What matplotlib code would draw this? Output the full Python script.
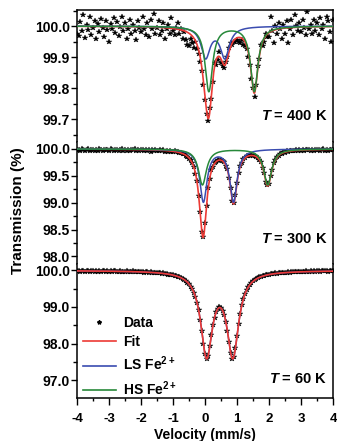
import numpy as np
import matplotlib
matplotlib.use("Agg")
import matplotlib.pyplot as plt
from matplotlib.lines import Line2D
from matplotlib.ticker import MultipleLocator, FormatStrFormatter

plt.rcParams['font.family'] = ['Liberation Sans', 'DejaVu Sans']
plt.rcParams['font.weight'] = 'bold'
plt.rcParams['mathtext.fontset'] = 'custom'
plt.rcParams['mathtext.rm'] = 'Liberation Sans:bold'
plt.rcParams['mathtext.it'] = 'Liberation Sans:bold:italic'
plt.rcParams['mathtext.bf'] = 'Liberation Sans:bold'

# ---------------- data ----------------
velocity_min, velocity_max, n_channels = -4.0, 4.0, 161

data_400K = [
    99.975, 99.968, 100.012, 99.985, 100.035, 99.962, 100.004, 99.988, 100.028, 99.972,
    99.994, 100.018, 99.958, 100.008, 99.981, 100.022, 99.995, 99.965, 100.015, 99.987,
    99.948, 100.006, 99.992, 100.025, 99.978, 100.012, 99.969, 99.998, 100.030, 99.983,
    100.010, 99.960, 99.990, 100.020, 99.975, 100.005, 99.985, 99.955, 100.015, 99.995,
    99.980, 100.030, 99.990, 99.970, 100.010, 99.965, 100.020, 99.990, 100.040, 99.975,
    99.995, 100.015, 99.970, 99.985, 100.010, 99.960, 99.990, 100.005, 99.975, 100.025,
    99.985, 99.970, 99.995, 100.010, 99.975, 99.990, 99.960, 99.980, 99.955, 99.940,
    99.935, 99.960, 99.945, 99.930, 99.950, 99.925, 99.910, 99.885, 99.855, 99.810,
    99.760, 99.715, 99.693, 99.735, 99.765, 99.820, 99.880, 99.875, 99.890, 99.915,
    99.880, 99.870, 99.865, 99.885, 99.900, 99.930, 99.945, 99.940, 99.948, 99.950,
    99.955, 99.950, 99.945, 99.955, 99.940, 99.935, 99.925, 99.900, 99.875, 99.830,
    99.800, 99.770, 99.810, 99.870, 99.895, 99.940, 99.935, 99.950, 99.975, 99.965,
    99.965, 100.030, 99.985, 99.945, 100.000, 99.975, 100.010, 99.990, 99.960, 100.005,
    99.975, 100.015, 99.945, 99.990, 100.020, 99.970, 100.035, 100.000, 99.985, 100.010,
    99.980, 100.020, 99.995, 99.970, 100.045, 99.990, 100.005, 99.975, 100.020, 99.985,
    100.010, 99.970, 100.025, 99.990, 100.005, 99.960, 100.030, 100.015, 99.980, 99.950,
    100.020,
]

data_300K = [
    99.975, 99.990, 99.965, 100.000, 99.980, 99.960, 99.985, 99.995, 99.970, 99.980,
    99.990, 99.965, 99.985, 99.970, 100.005, 99.980, 99.960, 99.990, 99.975, 99.985,
    99.970, 99.995, 99.980, 99.955, 99.985, 99.990, 99.970, 99.980, 100.000, 99.965,
    99.985, 99.970, 99.990, 99.960, 99.980, 99.975, 99.995, 99.965, 99.985, 99.970,
    99.975, 99.990, 99.960, 99.980, 99.970, 99.985, 99.950, 99.975, 99.965, 99.980,
    99.970, 99.955, 99.980, 99.960, 99.975, 99.950, 99.965, 99.945, 99.970, 99.950,
    99.940, 99.955, 99.935, 99.945, 99.920, 99.930, 99.900, 99.910, 99.870, 99.855,
    99.820, 99.800, 99.730, 99.660, 99.540, 99.400, 99.120, 98.820, 98.450, 98.360,
    98.620, 98.940, 99.270, 99.450, 99.600, 99.665, 99.740, 99.755, 99.795, 99.785,
    99.800, 99.770, 99.755, 99.690, 99.620, 99.460, 99.280, 99.040, 98.990, 99.150,
    99.360, 99.560, 99.680, 99.740, 99.810, 99.825, 99.860, 99.875, 99.870, 99.885,
    99.870, 99.875, 99.850, 99.840, 99.790, 99.750, 99.650, 99.550, 99.390, 99.320,
    99.350, 99.500, 99.615, 99.735, 99.790, 99.850, 99.870, 99.905, 99.910, 99.935,
    99.930, 99.955, 99.945, 99.965, 99.955, 99.970, 99.960, 99.980, 99.965, 99.975,
    99.970, 99.985, 99.960, 99.980, 99.975, 99.990, 99.965, 99.985, 99.970, 99.980,
    99.975, 99.990, 99.965, 99.980, 99.995, 99.970, 99.985, 99.960, 99.980, 99.975,
    99.990,
]

data_60K = [
    99.975, 99.990, 99.970, 99.985, 99.995, 99.965, 99.980, 99.990, 99.970, 99.985,
    99.975, 99.960, 99.985, 99.970, 99.990, 99.965, 99.980, 99.975, 99.960, 99.985,
    99.970, 99.980, 99.960, 99.975, 99.985, 99.955, 99.970, 99.980, 99.965, 99.960,
    99.965, 99.975, 99.950, 99.970, 99.960, 99.975, 99.955, 99.965, 99.950, 99.960,
    99.955, 99.960, 99.945, 99.950, 99.960, 99.940, 99.950, 99.935, 99.945, 99.930,
    99.930, 99.935, 99.920, 99.915, 99.920, 99.900, 99.905, 99.885, 99.890, 99.870,
    99.865, 99.860, 99.840, 99.830, 99.810, 99.790, 99.770, 99.740, 99.705, 99.670,
    99.620, 99.560, 99.490, 99.390, 99.270, 99.110, 98.920, 98.640, 98.330, 97.990,
    97.710, 97.575, 97.660, 97.930, 98.220, 98.510, 98.710, 98.870, 98.945, 98.990,
    98.975, 98.900, 98.770, 98.600, 98.340, 98.050, 97.750, 97.585, 97.625, 97.870,
    98.210, 98.530, 98.810, 99.050, 99.230, 99.350, 99.470, 99.535, 99.610, 99.655,
    99.710, 99.730, 99.770, 99.785, 99.815, 99.825, 99.850, 99.855, 99.875, 99.875,
    99.890, 99.900, 99.900, 99.915, 99.920, 99.915, 99.930, 99.925, 99.940, 99.935,
    99.945, 99.940, 99.950, 99.945, 99.955, 99.950, 99.960, 99.955, 99.965, 99.960,
    99.965, 99.970, 99.960, 99.975, 99.970, 99.965, 99.980, 99.970, 99.975, 99.965,
    99.975, 99.980, 99.970, 99.985, 99.975, 99.980, 99.990, 99.970, 99.985, 99.980,
    99.980,
]

# Lorentzian doublet components (line positions mm/s,
# depth %, half width mm/s)
ls_400K_lines = [0.02, 0.62]; ls_400K_depth = 0.099; ls_400K_hwhm = 0.17
hs_400K_lines = [0.12, 1.54]; hs_400K_depth = 0.21;  hs_400K_hwhm = 0.14
ls_300K_lines = [-0.05, 0.89]; ls_300K_depth = 0.975; ls_300K_hwhm = 0.135
hs_300K_lines = [-0.08, 1.96]; hs_300K_depth = 0.667; hs_300K_hwhm = 0.15
ls_60K_lines = [0.05, 0.87];  ls_60K_depth = 2.27;   ls_60K_hwhm = 0.22

temperatures = ["400", "300", "60"]
ytick_sets = [[99.7, 99.8, 99.9, 100.0],
              [98.0, 98.5, 99.0, 99.5, 100.0],
              [97.0, 98.0, 99.0, 100.0]]
xtick_values = [-4, -3, -2, -1, 0, 1, 2, 3, 4]

# ---------------- styling ----------------
RED = '#EC3A35'
BLUE = '#3A4CB0'
GREEN = '#27893A'

v_data = np.linspace(velocity_min, velocity_max, n_channels)
v_fine = np.linspace(velocity_min, velocity_max, 1601)


def doublet(v, lines, depth, hwhm):
    out = np.zeros_like(v)
    for c in lines:
        out += depth / (1.0 + ((v - c) / hwhm) ** 2)
    return out


fig = plt.figure(figsize=(3.37, 4.41), dpi=100)
L, W = 77 / 337, 256 / 337
H = 441.0
panels = [(10, 142, (99.626, 100.052), 0.1, 0.05),
          (142, 264, (97.858, 100.13), 0.5, 0.25),
          (264, 398, (96.507, 100.178), 1.0, 0.5)]
axes = []
for (top, bot, ylim, maj, mnr) in panels:
    ax = fig.add_axes([L, (H - bot) / H, W, (bot - top) / H])
    ax.set_xlim(velocity_min, velocity_max)
    ax.set_ylim(*ylim)
    axes.append(ax)

MS = 4.2

# 400 K
ax = axes[0]
ls = doublet(v_fine, ls_400K_lines, ls_400K_depth, ls_400K_hwhm)
hs = doublet(v_fine, hs_400K_lines, hs_400K_depth, hs_400K_hwhm)
ax.plot(v_data, data_400K, ls='none', marker='*', ms=MS, color='black', mew=0.3, zorder=2)
ax.plot(v_fine, 100 - ls - hs, color=RED, lw=1.2, zorder=3)
ax.plot(v_fine, 100 - ls, color=BLUE, lw=1.1, zorder=4)
ax.plot(v_fine, 100 - hs, color=GREEN, lw=1.1, zorder=5)

# 300 K
ax = axes[1]
ls = doublet(v_fine, ls_300K_lines, ls_300K_depth, ls_300K_hwhm)
hs = doublet(v_fine, hs_300K_lines, hs_300K_depth, hs_300K_hwhm)
ax.plot(v_data, data_300K, ls='none', marker='*', ms=MS, color='black', mew=0.3, zorder=2)
ax.plot(v_fine, 100 - ls - hs, color=RED, lw=1.2, zorder=3)
ax.plot(v_fine, 100 - ls, color=BLUE, lw=1.1, zorder=4)
ax.plot(v_fine, 100 - hs, color=GREEN, lw=1.1, zorder=5)

# 60 K
ax = axes[2]
ls = doublet(v_fine, ls_60K_lines, ls_60K_depth, ls_60K_hwhm)
ax.plot(v_data, data_60K, ls='none', marker='*', ms=MS, color='black', mew=0.3, zorder=2)
ax.plot(v_fine, 100 - ls, color=BLUE, lw=1.1, zorder=3)
ax.plot(v_fine, 100 - ls, color=RED, lw=1.2, zorder=4)

label_y = [0.20, 0.205, 0.145]
for i, ax in enumerate(axes):
    top, bot, ylim, maj, mnr = panels[i]
    ax.set_yticks(ytick_sets[i])
    ax.yaxis.set_minor_locator(MultipleLocator(mnr))
    ax.yaxis.set_major_formatter(FormatStrFormatter('%.1f'))
    ax.tick_params(axis='y', which='major', direction='out', length=4.3, width=1,
                   labelsize=10, pad=1)
    ax.tick_params(axis='y', which='minor', direction='out', length=2.8, width=1)
    for lab in ax.get_yticklabels():
        lab.set_fontweight('bold')
    for s in ['left', 'right', 'top', 'bottom']:
        ax.spines[s].set_linewidth(1.1)
    if i > 0:
        ax.spines['top'].set_visible(False)
    if i < 2:
        ax.spines['bottom'].set_visible(False)
        ax.tick_params(axis='x', which='both', bottom=False, labelbottom=False)
    ax.text(0.977, label_y[i], r'$\mathit{T}$ = ' + temperatures[i] + ' K',
            transform=ax.transAxes, ha='right', va='center', fontsize=10.5,
            fontweight='bold')

axb = axes[2]
axb.set_xticks(xtick_values)
axb.set_xticklabels([str(x) for x in xtick_values])
axb.xaxis.set_minor_locator(MultipleLocator(0.5))
axb.tick_params(axis='x', which='major', direction='out', length=5, width=1,
                labelsize=9.5, pad=5.5)
axb.tick_params(axis='x', which='minor', direction='out', length=2.5, width=1)
for lab in axb.get_xticklabels():
    lab.set_fontweight('bold')
axb.set_xlabel('Velocity (mm/s)', fontsize=10, fontweight='bold', labelpad=2.5)

fig.text(18 / 337, 1 - 211 / 441, 'Transmission (%)', rotation=90,
         ha='center', va='center', fontsize=11, fontweight='bold')

handles = [Line2D([], [], ls='none', marker='*', ms=3, color='black'),
           Line2D([], [], color=RED, lw=1.2),
           Line2D([], [], color=BLUE, lw=1.2),
           Line2D([], [], color=GREEN, lw=1.2)]
labels = ['Data', 'Fit', r'LS Fe$^{2+}$', r'HS Fe$^{2+}$']
leg = axb.legend(handles, labels, loc='upper left', bbox_to_anchor=(0.0, 0.655),
                 frameon=False, handlelength=2.4, handletextpad=0.5,
                 labelspacing=0.4, borderaxespad=0.0, borderpad=0.4,
                 prop={'weight': 'bold', 'size': 10})

fig.savefig('out.png', dpi=100)
